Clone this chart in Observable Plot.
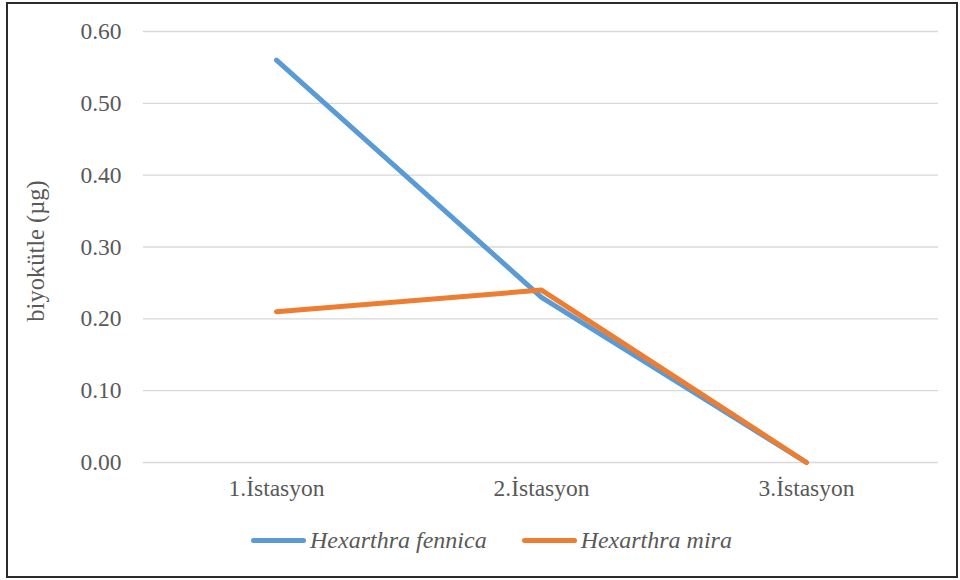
<!DOCTYPE html>
<html>
<head>
<meta charset="utf-8">
<script src="https://cdn.jsdelivr.net/npm/d3@7"></script>
<script src="https://cdn.jsdelivr.net/npm/@observablehq/plot@0.6"></script>
<style>
  html, body { margin: 0; padding: 0; background: #fff; }
  #frame {
    position: absolute; left: 6px; top: 2px; width: 948px; height: 572px;
    border: 2px solid #2b2b2b; background: #fff;
  }
  #chart { position: absolute; left: 0; top: 0; }
  #legend {
    position: absolute; left: 251px; top: 527px; display: flex; align-items: center;
    font-family: "Liberation Serif", "Times New Roman", serif; font-style: italic;
    font-size: 24px; color: #595959; white-space: nowrap;
  }
  .item { display: flex; align-items: center; }
  .item + .item { margin-left: 35px; }
  .swatch { width: 55px; height: 5px; border-radius: 3px; margin-right: 4px; }
</style>
</head>
<body>
<div id="frame"></div>
<div id="chart"></div>
<div id="legend"></div>
<script>
// Biomass by station for two Hexarthra species
const stations = ["1.İstasyon", "2.İstasyon", "3.İstasyon"];
const fennica = [0.56, 0.23, 0.00];
const mira = [0.21, 0.24, 0.00];
const seriesNames = ["Hexarthra fennica", "Hexarthra mira"];
const seriesColors = ["#5B9BD5", "#ED7D31"];
const yTicks = [0, 0.1, 0.2, 0.3, 0.4, 0.5, 0.6];

const rows = [
  ...stations.map((s, i) => ({station: s, value: fennica[i], series: seriesNames[0]})),
  ...stations.map((s, i) => ({station: s, value: mira[i], series: seriesNames[1]}))
];

const serif = "'Liberation Serif', 'Times New Roman', serif";

const chart = Plot.plot({
  width: 960,
  height: 510,
  marginLeft: 143,
  marginRight: 22,
  marginTop: 31,
  marginBottom: 48,
  style: {fontFamily: serif, fontSize: "23.5px", color: "#595959", background: "transparent"},
  x: {type: "point", domain: stations, padding: 0.5, label: null},
  y: {domain: [0, 0.6], ticks: yTicks, label: null},
  color: {domain: seriesNames, range: seriesColors},
  marks: [
    Plot.gridY(yTicks, {stroke: "#d9d9d9", strokeOpacity: 1, strokeWidth: 1.3}),
    Plot.axisY(yTicks, {tickSize: 0, tickPadding: 22, tickFormat: d3.format(".2f"), label: null}),
    Plot.axisX({tickSize: 0, tickPadding: 17, label: null}),
    Plot.text(["biyokütle (µg)"], {frameAnchor: "left", textAnchor: "middle", dx: -107, dy: 4, rotate: -90, fontSize: 24.5, fill: "#595959"}),
    Plot.line(rows, {x: "station", y: "value", stroke: "series", z: "series", strokeWidth: 5, strokeLinecap: "round", strokeLinejoin: "round"})
  ]
});
document.getElementById("chart").appendChild(chart);

const legend = document.getElementById("legend");
seriesNames.forEach((name, i) => {
  const item = document.createElement("div");
  item.className = "item";
  const sw = document.createElement("span");
  sw.className = "swatch";
  sw.style.background = seriesColors[i];
  const label = document.createElement("span");
  label.textContent = name;
  item.append(sw, label);
  legend.appendChild(item);
});
</script>
</body>
</html>
